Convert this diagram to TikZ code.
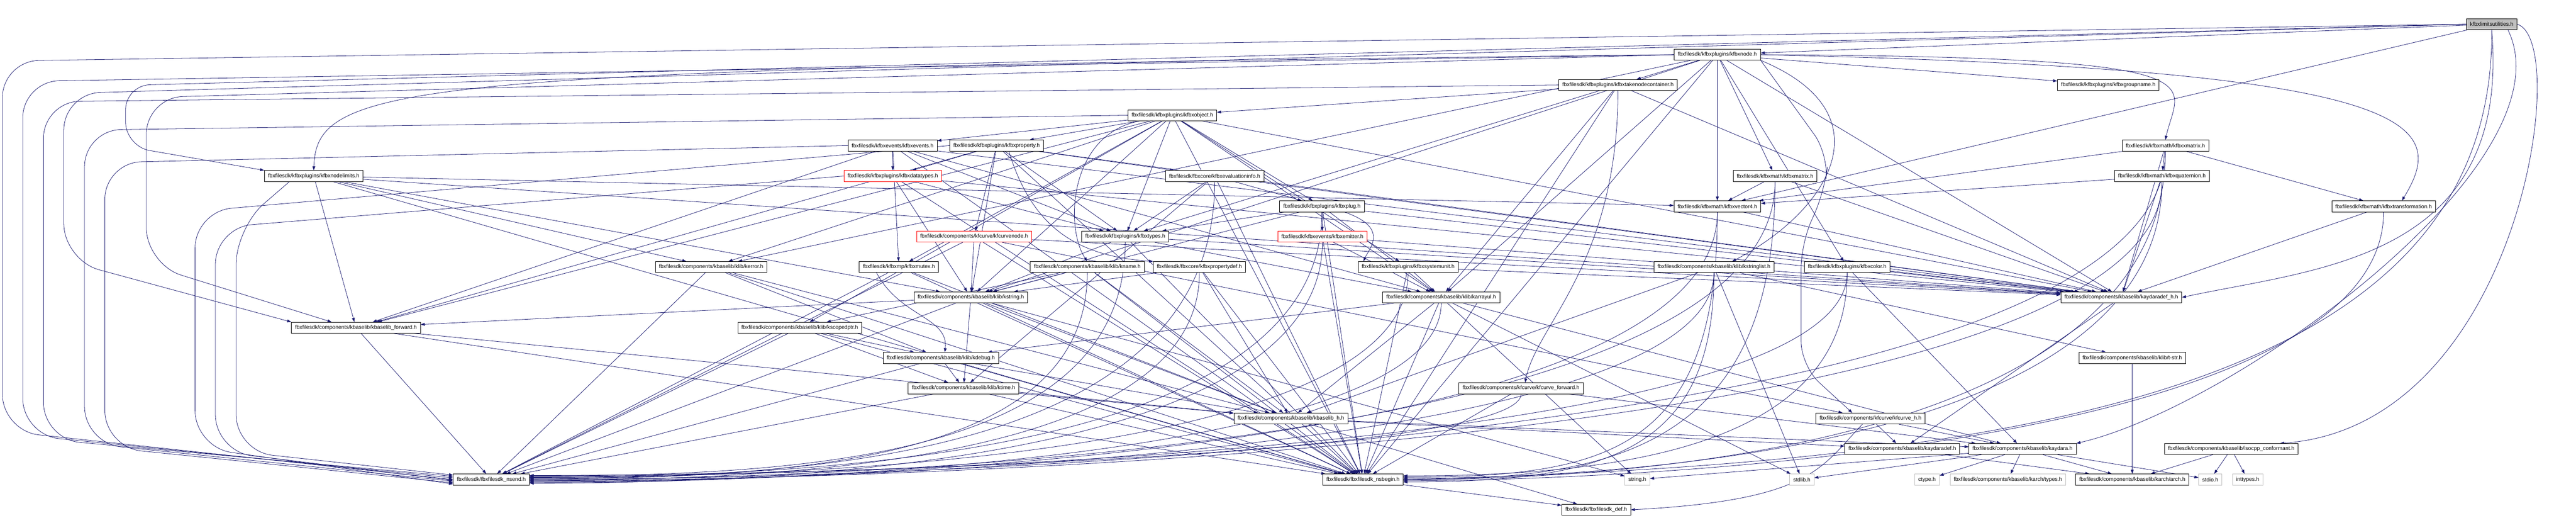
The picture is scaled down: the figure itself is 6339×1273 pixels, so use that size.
\documentclass[tikz,border=0pt]{standalone}
\usepackage{fontspec}
\setmainfont{Liberation Sans}
\usetikzlibrary{
  arrows.meta, % for the Triangle arrow tip
}
\definecolor{incl}{HTML}{191970} % colour of the include arrows
\definecolor{sysgray}{HTML}{BFBFBF} % frame of system headers, fill of the main file
\pgfdeclarelayer{back}
\pgfsetlayers{back,main}
\tikzset{
  hdr/.style={ % style for each header file
    rectangle,draw=black, % drawn as a plain black box
    fill=white, % hides the arrows that run behind it
    line width=1pt,
    inner xsep=9pt, % padding between the file name and the frame
    inner ysep=0pt,
    minimum height=27pt, % every box has the same height
    font=\fontsize{13.3}{16}\selectfont,
  },
  trunc/.style={ % header whose own graph is cut off
    hdr, % inherit the header style
    draw=red, % with a red frame
  },
  sys/.style={ % system header
    hdr,
    draw=sysgray, % light grey frame
  },
  mainfile/.style={ % the file this graph is drawn for
    hdr,
    fill=sysgray, % grey fill
  },
  conn/.style={ % style for the include arrows
    -{Triangle[length=10pt,width=7pt]}, % filled arrow tip
    draw=incl,
    line width=1pt,
  },
  lane/.style={ % arrows that run round the left edge
    conn,
    rounded corners=90pt,
  },
}

\begin{document}
\begin{tikzpicture}[x=1pt,y=-1pt]

  \node[mainfile] (root) at (6131.5,59.5) {kfbxlimitsutilities.h};

  \node[hdr] (node) at (4226,134.5) {fbxfilesdk/kfbxplugins/kfbxnode.h};
  \node[hdr] (tnc) at (3981.5,209) {fbxfilesdk/kfbxplugins/kfbxtakenodecontainer.h};
  \node[hdr] (grp) at (5188,209) {fbxfilesdk/kfbxplugins/kfbxgroupname.h};
  \node[hdr] (obj) at (2885,283.5) {fbxfilesdk/kfbxplugins/kfbxobject.h};

  \node[hdr] (evt) at (2196.5,358) {fbxfilesdk/kfbxevents/kfbxevents.h};
  \node[hdr] (prop) at (2452.5,358) {fbxfilesdk/kfbxplugins/kfbxproperty.h};
  \node[hdr] (xmat) at (5328.5,358) {fbxfilesdk/kfbxmath/kfbxxmatrix.h};

  \node[hdr] (nlim) at (772,433) {fbxfilesdk/kfbxplugins/kfbxnodelimits.h};
  \node[trunc] (dtyp) at (2197,433) {fbxfilesdk/kfbxplugins/kfbxdatatypes.h};
  \node[hdr] (eval) at (2989,433) {fbxfilesdk/fbxcore/kfbxevaluationinfo.h};
  \node[hdr] (mat) at (4368,433) {fbxfilesdk/kfbxmath/kfbxmatrix.h};
  \node[hdr] (quat) at (5320,433) {fbxfilesdk/kfbxmath/kfbxquaternion.h};

  \node[hdr] (plug) at (3253,507.5) {fbxfilesdk/kfbxplugins/kfbxplug.h};
  \node[hdr] (vec4) at (4226,507.5) {fbxfilesdk/kfbxmath/kfbxvector4.h};
  \node[hdr] (trans) at (5865.5,507.5) {fbxfilesdk/kfbxmath/kfbxtransformation.h};

  \node[trunc] (cnode) at (2397,582) {fbxfilesdk/components/kfcurve/kfcurvenode.h};
  \node[hdr] (types) at (2769,582) {fbxfilesdk/kfbxplugins/kfbxtypes.h};
  \node[trunc] (emit) at (3254,582) {fbxfilesdk/kfbxevents/kfbxemitter.h};

  \node[hdr] (kerr) at (1750,657) {fbxfilesdk/components/kbaselib/klib/kerror.h};
  \node[hdr] (mutex) at (2212,657) {fbxfilesdk/kfbxmp/kfbxmutex.h};
  \node[hdr] (kname) at (2675.5,657) {fbxfilesdk/components/kbaselib/klib/kname.h};
  \node[hdr] (pdef) at (2951.5,657) {fbxfilesdk/fbxcore/kfbxpropertydef.h};
  \node[hdr] (sunit) at (3465,657) {fbxfilesdk/kfbxplugins/kfbxsystemunit.h};
  \node[hdr] (slist) at (4217.5,657) {fbxfilesdk/components/kbaselib/klib/kstringlist.h};
  \node[hdr] (color) at (4545.5,657) {fbxfilesdk/kfbxplugins/kfbxcolor.h};

  \node[hdr] (kstr) at (2389,731.5) {fbxfilesdk/components/kbaselib/klib/kstring.h};
  \node[hdr] (arr) at (3546.5,731.5) {fbxfilesdk/components/kbaselib/klib/karrayul.h};
  \node[hdr] (adefh) at (5220,731.5) {fbxfilesdk/components/kbaselib/kaydaradef\_h.h};

  \node[hdr] (fwd) at (876,806) {fbxfilesdk/components/kbaselib/kbaselib\_forward.h};
  \node[hdr] (sptr) at (1968,806) {fbxfilesdk/components/kbaselib/klib/kscopedptr.h};

  \node[hdr] (kdbg) at (2315,880.5) {fbxfilesdk/components/kbaselib/klib/kdebug.h};
  \node[hdr] (tstr) at (5247,880.5) {fbxfilesdk/components/kbaselib/klib/t-str.h};

  \node[hdr] (ktime) at (2371,955) {fbxfilesdk/components/kbaselib/klib/ktime.h};
  \node[hdr] (cfwd) at (3743,955) {fbxfilesdk/components/kfcurve/kfcurve\_forward.h};

  \node[hdr] (kbh) at (3176.5,1029.5) {fbxfilesdk/components/kbaselib/kbaselib\_h.h};
  \node[hdr] (kfch) at (4603,1029.5) {fbxfilesdk/components/kfcurve/kfcurve\_h.h};

  \node[hdr] (adef) at (4681,1104.5) {fbxfilesdk/components/kbaselib/kaydaradef.h};
  \node[hdr] (kay) at (4977,1104.5) {fbxfilesdk/components/kbaselib/kaydara.h};
  \node[hdr] (iso) at (5490.5,1104.5) {fbxfilesdk/components/kbaselib/isocpp\_conformant.h};

  \node[hdr] (nsend) at (1209,1179.5) {fbxfilesdk/fbxfilesdk\_nsend.h};
  \node[hdr] (nsbeg) at (3354,1179.5) {fbxfilesdk/fbxfilesdk\_nsbegin.h};
  \node[sys] (strh) at (4029,1179.5) {string.h};
  \node[sys] (stdlib) at (4434,1179.5) {stdlib.h};
  \node[sys] (ctype) at (4742,1179.5) {ctype.h};
  \node[sys] (atypes) at (4941,1179.5) {fbxfilesdk/components/kbaselib/karch/types.h};
  \node[hdr] (arch) at (5247,1179.5) {fbxfilesdk/components/kbaselib/karch/arch.h};
  \node[sys] (stdio) at (5439,1179.5) {stdio.h};
  \node[sys] (inttypes) at (5531,1179.5) {inttypes.h};

  \node[hdr] (def) at (3928,1254) {fbxfilesdk/fbxfilesdk\_def.h};

  \begin{pgfonlayer}{back}
  \fill[white] (0,0) rectangle (6339,1273);

  % kfbxlimitsutilities.h
  \draw[conn] (root) -- (node);
  \draw[conn] (root) -- (vec4);
  \draw[lane,rounded corners=60pt] (root.west) -- (309,210) -- (309,360) -- (nlim.north west);
  \draw[lane] (root.west) -- (157,230) -- (157,640) -- (fwd.north west);
  \draw[lane] (root.west) -- (6,150) -- (6,1060) -- (nsend.west);
  \draw[conn] (root.south) .. controls (6180,640) and (5700,660) .. (adefh.east);
  \draw[conn] (root.south) .. controls (6140,950) and (5000,1140) .. (nsbeg.east);
  \draw[conn] ([xshift=40pt]root.south) .. controls (6330,400) and (5500,1000) .. (kay.north east);
  \draw[conn] (root.east) .. controls (6330,100) and (6200,1050) .. ([xshift=120pt]iso.north);

  % kfbxnode.h
  \draw[conn] (node) -- (tnc);
  \draw[conn] (node) -- (grp);
  \draw[conn] (node) -- (vec4);
  \draw[conn] (node) -- (mat);
  \draw[conn] (node.east) .. controls (5500,140) and (5360,200) .. (xmat.north);
  \draw[conn] (node.east) .. controls (5950,170) and (6030,300) .. ([xshift=45pt]trans.north);
  \draw[conn] (node.west) .. controls (1000,170) and (780,200) .. (nlim.north);
  \draw[conn] (node) -- (kerr);
  \draw[conn] (node) -- (kstr);
  \draw[conn] (node) -- (arr);
  \draw[conn] (node.south east) .. controls (4650,280) and (4500,520) .. ([xshift=45pt]slist.north);
  \draw[conn] (node) -- (color);
  \draw[conn] (node) -- (adefh);
  \draw[conn,rounded corners=60pt] (node.south east) -- (4500,380) -- (4490,470) -- (4432,600) -- (4432,900) -- ([xshift=-45pt]kfch.north);
  \draw[lane] (node.west) -- (56,200) -- (56,1070) -- ([yshift=4pt]nsend.west);
  \draw[lane] (node.west) -- (360,240) -- (360,650) -- ([xshift=-60pt]fwd.north);
  \draw[conn] (node) -- (nsbeg);

  % kfbxtakenodecontainer.h
  \draw[conn] (tnc) -- (obj);
  \draw[conn] (tnc) -- (types);
  \draw[conn] (tnc) -- (arr);
  \draw[conn] (tnc) -- (adefh);
  \draw[conn] (tnc.south) .. controls (3981,650) and (3780,800) .. ([xshift=10pt]cfwd.north);
  \draw[lane] (tnc.west) -- (107,250) -- (107,1080) -- ([yshift=8pt]nsend.west);
  \draw[conn] (tnc) -- (nsbeg);

  % kfbxobject.h
  \draw[conn] (obj) -- (evt);
  \draw[conn] (obj) -- (prop);
  \draw[conn] (obj) -- (plug);
  \draw[conn] ([xshift=-80pt]obj.south) .. controls (2630,330) and (2620,560) .. (kname.north);
  \draw[conn] (obj) -- (kerr);
  \draw[conn] (obj) -- (mutex);
  \draw[conn] (obj) -- (sptr);
  \draw[conn] (obj) -- (types);
  \draw[conn] (obj) -- (sunit);
  \draw[conn] (obj) -- (kstr);
  \draw[conn] (obj) -- (arr);
  \draw[conn] (obj) -- (adefh);
  \draw[conn] (obj) -- (fwd);
  \draw[lane] (obj.west) -- (208,320) -- (208,1090) -- ([yshift=-4pt]nsend.west);
  \draw[conn] (obj) -- (nsbeg);

  % kfbxevents.h
  \draw[conn] (evt) -- (dtyp);
  \draw[conn] (evt) -- (types);
  \draw[conn] (evt) -- (mutex);
  \draw[conn] (evt) -- (arr);
  \draw[conn] (evt) -- (adefh);
  \draw[conn] (evt) -- (fwd);
  \draw[lane] (evt.west) -- (258,400) -- (258,1100) -- ([yshift=-8pt]nsend.west);
  \draw[conn] (evt) -- (nsbeg);

  % kfbxproperty.h
  \draw[conn] (prop) -- (dtyp);
  \draw[conn] (prop) -- (cnode);
  \draw[conn] (prop) -- (eval);
  \draw[conn] ([xshift=30pt]prop.south) .. controls (2540,560) and (2650,630) .. (pdef.north west);
  \draw[conn] (prop) -- (types);
  \draw[conn] (prop) -- (kstr);
  \draw[conn] (prop) -- (adefh);
  \draw[conn] (prop) -- (fwd);
  \draw[lane] (prop.west) -- (480,520) -- (480,1100) -- ([yshift=-11pt]nsend.west);
  \draw[conn] (prop) -- (nsbeg);

  % kfbxxmatrix.h
  \draw[conn] (xmat) -- (quat);
  \draw[conn] (xmat) -- (trans);
  \draw[conn] (xmat) -- (vec4);
  \draw[conn] (xmat) -- (adefh);
  \draw[conn] (xmat) .. controls +(0,762) and +(700,0) .. (nsend.east);
  \draw[conn] (xmat) .. controls +(0,752) and +(500,0) .. (nsbeg.east);

  % kfbxnodelimits.h
  \draw[conn] (nlim) -- (vec4);
  \draw[conn] (nlim) -- (kerr);
  \draw[conn] (nlim) -- (kstr);
  \draw[conn] (nlim) -- (fwd);
  \draw[conn] (nlim) -- (adefh);
  \draw[lane] ([xshift=-60pt]nlim.south) -- (581,560) -- (581,1110) -- ([yshift=11pt]nsend.west);
  \draw[conn] (nlim) -- (nsbeg);

  % kfbxdatatypes.h
  \draw[conn] (dtyp) -- (types);
  \draw[conn] (dtyp) -- (kstr);
  \draw[conn] (dtyp) -- (adefh);
  \draw[lane] (dtyp.west) -- (530,560) -- (530,1110) -- ([yshift=-2pt]nsend.west);
  \draw[conn] (dtyp) -- (nsbeg);

  % kfbxevaluationinfo.h
  \draw[conn] (eval) -- (types);
  \draw[conn] (eval) -- (plug);
  \draw[conn] (eval) -- (ktime);
  \draw[conn] (eval) -- (adefh);
  \draw[conn] (eval) .. controls +(0,687) and +(700,0) .. ([yshift=3pt]nsend.east);
  \draw[conn] (eval) -- (nsbeg);

  % kfbxmatrix.h
  \draw[conn] (mat) -- (vec4);
  \draw[conn] (mat) -- (adefh);
  \draw[conn] (mat) .. controls +(0,687) and +(700,0) .. (nsend.east);
  \draw[conn] (mat) .. controls +(0,677) and +(500,0) .. (nsbeg.east);

  % kfbxquaternion.h
  \draw[conn] (quat) -- (vec4);
  \draw[conn] (quat) -- (adefh);
  \draw[conn] (quat) .. controls +(0,687) and +(700,0) .. ([yshift=-3pt]nsend.east);
  \draw[conn] (quat) .. controls +(0,677) and +(500,0) .. ([yshift=3pt]nsbeg.east);

  % kfbxtransformation.h
  \draw[conn] (trans) -- (adefh);
  \draw[conn] (trans) .. controls +(0,603) and +(500,0) .. ([yshift=-3pt]nsbeg.east);

  % kfbxplug.h
  \draw[conn] (plug) -- (emit);
  \draw[conn] ([xshift=55pt]plug.south) .. controls (3420,560) and (3370,610) .. ([xshift=-110pt]sunit.north);
  \draw[conn] (plug) -- (types);
  \draw[conn] (plug) -- (kstr);
  \draw[conn] (plug) -- (arr);
  \draw[conn] (plug) -- (adefh);
  \draw[conn] (plug) .. controls +(0,613) and +(700,0) .. ([yshift=6pt]nsend.east);
  \draw[conn] (plug) -- (nsbeg);

  % kfbxvector4.h
  \draw[conn] (vec4) -- (adefh);
  \draw[conn] (vec4) .. controls +(0,613) and +(700,0) .. ([yshift=-6pt]nsend.east);
  \draw[conn] (vec4) .. controls +(0,603) and +(500,0) .. ([yshift=6pt]nsbeg.east);

  % kfcurvenode.h
  \draw[conn] (cnode) -- (kstr);
  \draw[conn] (cnode) -- (kfch);
  \draw[conn] (cnode) -- (adefh);
  \draw[conn] (cnode) -- (nsend);
  \draw[conn] (cnode) -- (nsbeg);

  % kfbxtypes.h
  \draw[conn] (types) -- (kstr);
  \draw[conn] (types) -- (arr);
  \draw[conn] (types) -- (adefh);
  \draw[conn] (types) .. controls +(0,538) and +(700,0) .. ([yshift=9pt]nsend.east);
  \draw[conn] (types) -- (nsbeg);

  % kfbxemitter.h
  \draw[conn] (emit) -- (arr);
  \draw[conn] (emit) -- (adefh);
  \draw[conn] (emit) .. controls +(0,538) and +(700,0) .. ([yshift=-9pt]nsend.east);
  \draw[conn] (emit) -- (nsbeg);

  % kerror.h
  \draw[conn] (kerr) -- (kdbg);
  \draw[conn] (kerr) -- (kbh);
  \draw[conn] (kerr) -- (nsend);
  \draw[conn] (kerr) -- (nsbeg);

  % kfbxmutex.h
  \draw[conn] ([xshift=-55pt]mutex.south) .. controls (2215,780) and (2335,780) .. ([xshift=10pt]kdbg.north);
  \draw[conn] (mutex) -- (kbh);
  \draw[conn] (mutex) -- (nsend);
  \draw[conn] (mutex) -- (nsbeg);

  % kname.h
  \draw[conn] (kname) -- (kstr);
  \draw[conn] (kname) -- (sptr);
  \draw[conn] (kname) -- (kbh);
  \draw[conn] (kname) .. controls +(0,463) and +(700,0) .. ([yshift=2pt]nsend.east);
  \draw[conn] (kname) -- (nsbeg);

  % kfbxpropertydef.h
  \draw[conn] (pdef) -- (kstr);
  \draw[conn] (pdef) -- (kbh);
  \draw[conn] (pdef) .. controls +(0,463) and +(700,0) .. ([yshift=-2pt]nsend.east);
  \draw[conn] (pdef) -- (nsbeg);

  % kfbxsystemunit.h
  \draw[conn] (sunit) -- (arr);
  \draw[conn] (sunit) -- (adefh);
  \draw[conn] (sunit) .. controls +(0,463) and +(700,0) .. ([yshift=5pt]nsend.east);
  \draw[conn] (sunit) -- (nsbeg);

  % kstringlist.h
  \draw[conn] (slist) -- (tstr);
  \draw[conn] (slist) -- (kbh);
  \draw[conn] (slist) -- (stdlib);
  \draw[conn] (slist) .. controls +(0,463) and +(700,0) .. ([yshift=-5pt]nsend.east);
  \draw[conn] (slist) .. controls +(0,453) and +(500,0) .. ([yshift=-6pt]nsbeg.east);

  % kfbxcolor.h
  \draw[conn] (color) -- (adefh);
  \draw[conn] (color) -- (kay);
  \draw[conn] (color) .. controls +(0,463) and +(700,0) .. ([yshift=8pt]nsend.east);
  \draw[conn] (color) .. controls +(0,453) and +(500,0) .. ([yshift=9pt]nsbeg.east);

  % kstring.h
  \draw[conn] (kstr) -- (ktime);
  \draw[conn] (kstr) -- (fwd);
  \draw[conn] (kstr) -- (kbh);
  \draw[conn] (kstr) -- (strh);
  \draw[conn] (kstr) -- (nsend);
  \draw[conn] (kstr) -- (nsbeg);

  % karrayul.h
  \draw[conn] (arr) -- (kdbg);
  \draw[conn] (arr) -- (kbh);
  \draw[conn] (arr) -- (strh);
  \draw[conn] (arr) -- (stdlib);
  \draw[conn] (arr) -- (kay);
  \draw[conn] (arr) .. controls +(0,389) and +(700,0) .. ([yshift=-8pt]nsend.east);
  \draw[conn] (arr) -- (nsbeg);

  % kaydaradef_h.h
  \draw[conn] (adefh) -- (adef);

  % kbaselib_forward.h
  \draw[conn] (fwd) -- (kbh);
  \draw[conn] (fwd) -- (nsend);
  \draw[conn] (fwd) -- (nsbeg);

  % kscopedptr.h
  \draw[conn] (sptr) -- (kdbg);
  \draw[conn] (sptr) -- (ktime);
  \draw[conn] (sptr) -- (nsend);
  \draw[conn] (sptr) -- (nsbeg);

  % kdebug.h
  \draw[conn] (kdbg) -- (ktime);
  \draw[conn] (kdbg) -- (kbh);
  \draw[conn] (kdbg) -- (nsend);
  \draw[conn] (kdbg) -- (nsbeg);

  % t-str.h
  \draw[conn] (tstr) -- (arch);

  % ktime.h
  \draw[conn] (ktime) -- (kbh);
  \draw[conn] (ktime) -- (nsend);
  \draw[conn] (ktime) -- (nsbeg);

  % kfcurve_forward.h
  \draw[conn] (cfwd) -- (kay);
  \draw[conn] (cfwd) .. controls +(0,165) and +(700,0) .. ([yshift=10pt]nsend.east);
  \draw[conn] (cfwd) -- (nsbeg);

  % kbaselib_h.h
  \draw[conn] (kbh) -- (adef);
  \draw[conn] (kbh) -- (kay);
  \draw[conn] (kbh) -- (def);

  % kfcurve_h.h
  \draw[conn] (kfch) -- (adef);
  \draw[conn] (kfch) -- (kay);
  \draw[conn] ([xshift=-20pt]kfch.south) .. controls (4480,1150) and (4460,1230) .. (def.east);

  % kaydaradef.h
  \draw[conn] (adef) -- (arch);

  % kaydara.h
  \draw[conn] (kay) -- (stdlib);
  \draw[conn] (kay) -- (ctype);
  \draw[conn] (kay) -- (atypes);
  \draw[conn] (kay) -- (arch);
  \draw[conn] (kay) -- (stdio);
  \draw[conn] (kay) -- (strh);

  % isocpp_conformant.h
  \draw[conn] (iso) -- (arch);
  \draw[conn] (iso) -- (stdio);
  \draw[conn] (iso) -- (inttypes);

  % fbxfilesdk_nsbegin.h
  \draw[conn] (nsbeg) -- (def);
  \end{pgfonlayer}

  \useasboundingbox (0,0) rectangle (6339,1273);
\end{tikzpicture}
\end{document}
